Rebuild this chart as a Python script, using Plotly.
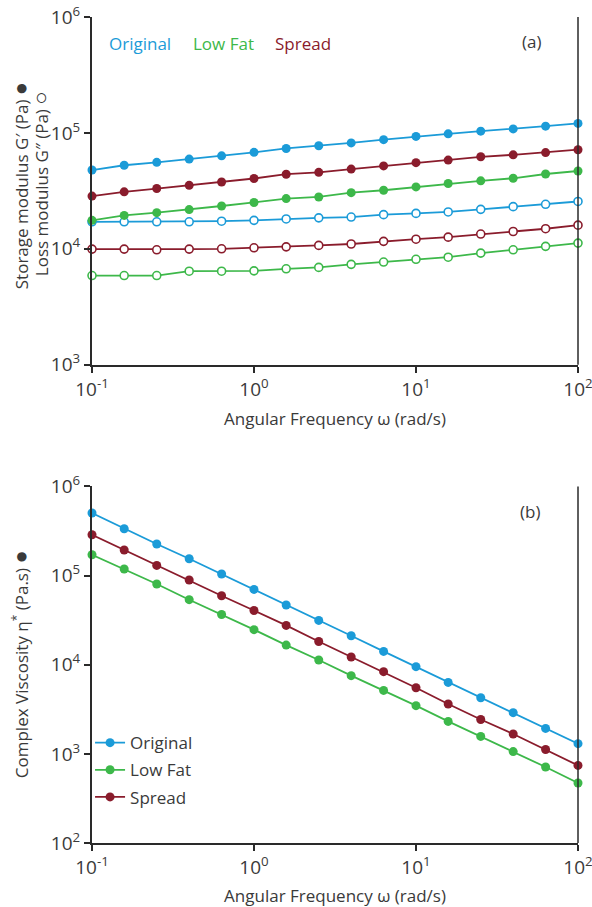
import plotly.graph_objects as go

# Angular frequency (rad/s), 5 points per decade
omega = [0.1, 0.158, 0.251, 0.398, 0.631, 1.0, 1.58, 2.51, 3.98, 6.31,
         10.0, 15.8, 25.1, 39.8, 63.1, 100.0]

# (a) Storage modulus G' (Pa)
gp_original = [47800, 52600, 55700, 59400, 63400, 68000, 73400, 77400,
               82000, 87400, 93300, 98200, 103500, 108300, 114400, 120800]
gp_lowfat = [17600, 19400, 20500, 21800, 23400, 25100, 27100, 28000,
             30500, 32000, 34200, 36600, 38600, 40600, 44200, 46900]
gp_spread = [28500, 31000, 33100, 35300, 37700, 40400, 44000, 45700,
             48700, 51900, 55400, 58300, 62200, 64700, 67600, 71600]

# (a) Loss modulus G'' (Pa)
gpp_original = [17100, 17100, 17100, 17100, 17300, 17600, 18100, 18500,
                18800, 19700, 20200, 20800, 21900, 23100, 24200, 25600]
gpp_lowfat = [5880, 5880, 5880, 6410, 6410, 6450, 6720, 6910,
              7340, 7690, 8120, 8460, 9170, 9800, 10500, 11200]
gpp_spread = [9940, 9940, 9800, 9940, 10000, 10200, 10400, 10700,
              11000, 11600, 12100, 12600, 13400, 14100, 14900, 16000]

# (b) Complex viscosity eta* (Pa.s)
eta_original = [503000, 335000, 226000, 154500, 104100, 69900, 46700, 31400,
                21100, 14100, 9500, 6330, 4260, 2900, 1930, 1300]
eta_lowfat = [171000, 118400, 80400, 53600, 36600, 24700, 16600, 11300,
              7530, 5150, 3470, 2310, 1570, 1060, 712, 471]
eta_spread = [287000, 193500, 130000, 89100, 59400, 40600, 27600, 18200,
              12200, 8350, 5520, 3620, 2430, 1670, 1120, 742]

series_names = ["Original", "Low Fat", "Spread"]
x_tickvals = [0.1, 1, 10, 100]
x_ticktext = ["10<sup>-1</sup>", "10<sup>0</sup>", "10<sup>1</sup>", "10<sup>2</sup>"]
ya_tickvals = [1e3, 1e4, 1e5, 1e6]
ya_ticktext = ["10<sup>3</sup>", "10<sup>4</sup>", "10<sup>5</sup>", "10<sup>6</sup>"]
yb_tickvals = [1e2, 1e3, 1e4, 1e5, 1e6]
yb_ticktext = ["10<sup>2</sup>", "10<sup>3</sup>", "10<sup>4</sup>", "10<sup>5</sup>", "10<sup>6</sup>"]

colors = {"Original": "#1b9bd8", "Low Fat": "#3db84a", "Spread": "#8a1c2c"}
FONT = "Open Sans"
TXT = "#3a3a3a"

fig = go.Figure()

top_gp = {"Original": gp_original, "Low Fat": gp_lowfat, "Spread": gp_spread}
top_gpp = {"Original": gpp_original, "Low Fat": gpp_lowfat, "Spread": gpp_spread}
bot = {"Original": eta_original, "Low Fat": eta_lowfat, "Spread": eta_spread}

for name in series_names:
    c = colors[name]
    fig.add_trace(go.Scatter(x=omega, y=top_gp[name], mode="lines+markers",
                             line=dict(color=c, width=1.8),
                             marker=dict(color=c, size=9, symbol="circle"),
                             cliponaxis=False, showlegend=False,
                             xaxis="x", yaxis="y"))
    fig.add_trace(go.Scatter(x=omega, y=top_gpp[name], mode="lines+markers",
                             line=dict(color=c, width=1.8),
                             marker=dict(color="white", size=8, symbol="circle",
                                         line=dict(color=c, width=1.6)),
                             cliponaxis=False, showlegend=False,
                             xaxis="x", yaxis="y"))

for name in series_names:
    c = colors[name]
    fig.add_trace(go.Scatter(x=omega, y=bot[name], mode="lines+markers", name=name,
                             legendgroup=name,
                             line=dict(color=c, width=1.8),
                             marker=dict(color=c, size=9, symbol="circle"),
                             cliponaxis=False, showlegend=True,
                             xaxis="x2", yaxis="y2"))

axis_common = dict(type="log", showgrid=False, zeroline=False, showline=True,
                   linecolor="#2a2a2a", linewidth=2, ticks="outside", ticklen=6,
                   tickwidth=1.5, tickcolor="#2a2a2a", automargin=False,
                   ticklabeloverflow="allow",
                   tickfont=dict(family=FONT, size=19, color=TXT))

H = 907
t_px, b_px = 17.3, 63.7
plot_h = H - t_px - b_px
top_lo = (H - b_px - 365.0) / plot_h
bot_hi = (H - b_px - 486.7) / plot_h

xtitle = dict(text="Angular Frequency ω (rad/s)", font=dict(family=FONT, size=17, color=TXT),
              standoff=13)

fig.update_layout(
    width=592, height=907,
    margin=dict(l=92, r=14, t=t_px, b=b_px, autoexpand=False),
    paper_bgcolor="white", plot_bgcolor="white",
    font=dict(family=FONT, color=TXT),
    xaxis=dict(axis_common, range=[-1, 2], tickvals=x_tickvals, ticktext=x_ticktext,
               anchor="y", domain=[0, 1], title=xtitle),
    yaxis=dict(axis_common, range=[3, 6], tickvals=ya_tickvals, ticktext=ya_ticktext,
               anchor="x", domain=[top_lo, 1]),
    xaxis2=dict(axis_common, range=[-1, 2], tickvals=x_tickvals, ticktext=x_ticktext,
                anchor="y2", domain=[0, 1], title=xtitle),
    yaxis2=dict(axis_common, range=[2, 6], tickvals=yb_tickvals, ticktext=yb_ticktext,
                anchor="x2", domain=[0, bot_hi]),
    legend=dict(x=-0.004, y=0.1427, xanchor="left", yanchor="top",
                font=dict(family=FONT, size=17, color=TXT),
                bgcolor="rgba(0,0,0,0)", itemwidth=30, tracegroupgap=2),
)

# right-hand frame lines
for yref in ["y domain", "y2 domain"]:
    fig.add_shape(type="line", xref="paper", x0=1, x1=1, yref=yref, y0=0, y1=1,
                  line=dict(color="#2a2a2a", width=1.5))

W_plot = 592 - 92 - 14
def px_x(px):
    return (px - 92) / W_plot
def px_y(py):
    return 1 - (py - t_px) / plot_h

# top panel text legend
leg_x = [107, 190.5, 272.5]
for name, lx in zip(series_names, leg_x):
    fig.add_annotation(text=name, xref="paper", yref="paper", x=px_x(lx), y=px_y(43.3),
                       xanchor="left", yanchor="middle", showarrow=False,
                       font=dict(family=FONT, size=17, color=colors[name]))

fig.add_annotation(text="(a)", xref="paper", yref="paper", x=px_x(531.5), y=px_y(42),
                   xanchor="center", yanchor="middle", showarrow=False,
                   font=dict(family=FONT, size=17, color=TXT))
fig.add_annotation(text="(b)", xref="paper", yref="paper", x=px_x(530), y=px_y(512),
                   xanchor="center", yanchor="middle", showarrow=False,
                   font=dict(family=FONT, size=17, color=TXT))

# y-axis titles
BIG = '<span style="font-size:22px">{}</span>'
fig.add_annotation(text="Storage modulus G′ (Pa) " + BIG.format("●"), xref="paper", yref="paper",
                   x=px_x(18.5), y=px_y(186), textangle=-90, showarrow=False,
                   xanchor="center", yanchor="middle",
                   font=dict(family=FONT, size=17, color=TXT))
fig.add_annotation(text="Loss modulus G″ (Pa) " + BIG.format("○"), xref="paper", yref="paper",
                   x=px_x(38.5), y=px_y(184), textangle=-90, showarrow=False,
                   xanchor="center", yanchor="middle",
                   font=dict(family=FONT, size=17, color=TXT))
fig.add_annotation(text="Complex Viscosity η<sup>*</sup> (Pa.s) " + BIG.format("●"),
                   xref="paper", yref="paper",
                   x=px_x(18.5), y=px_y(665), textangle=-90, showarrow=False,
                   xanchor="center", yanchor="middle",
                   font=dict(family=FONT, size=17, color=TXT))

fig.write_html("out.html")
